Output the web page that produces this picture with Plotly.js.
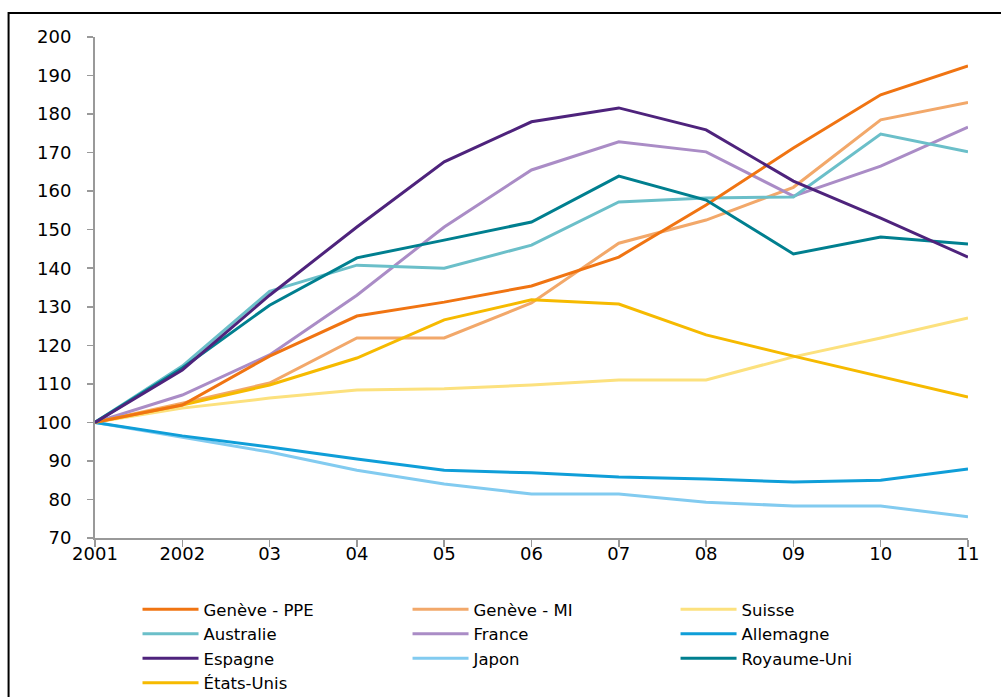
<!DOCTYPE html>
<html><head><meta charset="utf-8">
<script src="https://cdn.plot.ly/plotly-3.0.1.min.js"></script>
<style>body{margin:0;padding:0;background:#fff}#chart{width:1001px;height:697px}</style>
</head><body><div id="chart"></div>
<script>
const years = [2001,2002,2003,2004,2005,2006,2007,2008,2009,2010,2011];
const yearLabels = ["2001","2002","03","04","05","06","07","08","09","10","11"];

const genevePPE = [100,104.5,117.2,127.6,131.2,135.4,142.9,156.4,171.2,185,192.5];
const geneveMI  = [100,105,110.2,121.9,121.9,131,146.5,152.5,161,178.5,183];
const suisse    = [100,103.7,106.3,108.4,108.7,109.7,111,111,117,121.9,127.1];
const australie = [100,114.6,134,140.8,140,146,157.2,158.2,158.5,174.8,170.2];
const france    = [100,107.1,117.5,133,150.7,165.5,172.8,170.2,158.7,166.5,176.6];
const allemagne = [100,96.5,93.6,90.5,87.6,86.9,85.8,85.3,84.5,85,87.9];
const espagne   = [100,113.6,133,150.7,167.6,178,181.6,175.9,162.6,153,142.9];
const japon     = [100,96.2,92.3,87.6,84,81.4,81.4,79.3,78.3,78.3,75.5];
const royaumeUni= [100,114.1,130.4,142.7,147.3,152,163.9,157.7,143.7,148.1,146.3];
const etatsUnis = [100,104.5,109.7,116.7,126.6,131.8,130.7,122.7,117.2,111.8,106.6];

const series = [
  {name:"Genève - PPE", y:genevePPE, color:"#F07412", legend:"legend"},
  {name:"Genève - MI", y:geneveMI, color:"#F2A86A", legend:"legend2"},
  {name:"Suisse", y:suisse, color:"#FCE17E", legend:"legend3"},
  {name:"Australie", y:australie, color:"#6BBFC9", legend:"legend"},
  {name:"France", y:france, color:"#AA8CC6", legend:"legend2"},
  {name:"Allemagne", y:allemagne, color:"#0F9ED8", legend:"legend3"},
  {name:"Espagne", y:espagne, color:"#4E237C", legend:"legend"},
  {name:"Japon", y:japon, color:"#82CBF0", legend:"legend2"},
  {name:"Royaume-Uni", y:royaumeUni, color:"#007F8F", legend:"legend3"},
  {name:"États-Unis", y:etatsUnis, color:"#F6BA00", legend:"legend"}
];
// draw order: lighter lines beneath
const drawOrder = [2,7,5,1,4,3,9,0,8,6];
const traces = series.map((s,i)=>({
  type:"scatter", mode:"lines", x:years, y:s.y, name:s.name,
  line:{color:s.color, width:3}, legend:s.legend, legendrank:i+1
}));

const FONT = "DejaVu Sans";
const legendBase = {orientation:"v", xanchor:"left", yanchor:"top", y:-0.108,
  font:{family:FONT, size:16.5, color:"#000"}, bgcolor:"rgba(0,0,0,0)",
  tracegroupgap:0, itemwidth:56, traceorder:"normal"};

const layout = {
  width:1001, height:697,
  margin:{l:95, r:33, t:37, b:159, autoexpand:false},
  paper_bgcolor:"#fff", plot_bgcolor:"#fff",
  font:{family:FONT, size:18, color:"#000"},
  xaxis:{range:[2001,2011], tickvals:years, ticktext:yearLabels, showgrid:false,
    zeroline:false, showline:true, linecolor:"#999", linewidth:2, ticks:"outside",
    ticklen:7, tickcolor:"#999", tickwidth:1.5, ticklabelstandoff:-9,
    tickfont:{family:FONT, size:18, color:"#000"}},
  yaxis:{range:[70,200], dtick:10, tick0:70, showgrid:false, zeroline:false, showline:true,
    linecolor:"#999", linewidth:2, ticks:"outside", ticklen:6, tickcolor:"#999", tickwidth:1.5,
    ticklabelstandoff:12, tickfont:{family:FONT, size:18, color:"#000"}},
  legend:Object.assign({}, legendBase, {x:0.0487}),
  legend2:Object.assign({}, legendBase, {x:0.358}),
  legend3:Object.assign({}, legendBase, {x:0.665}),
  showlegend:true,
  shapes:[{type:"rect", xref:"paper", yref:"paper", x0:-0.099, x1:1.2, y0:-0.5, y1:1.048,
    line:{color:"#000", width:2}, fillcolor:"rgba(0,0,0,0)", layer:"above"}]
};

Plotly.newPlot("chart", drawOrder.map(i=>traces[i]), layout, {staticPlot:true, displayModeBar:false});
</script></body></html>
